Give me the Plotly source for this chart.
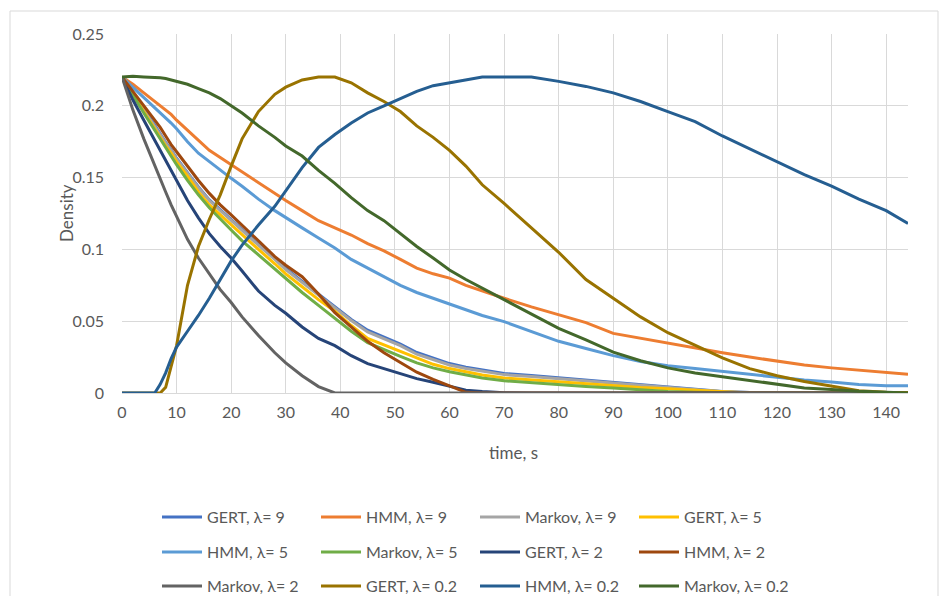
import plotly.graph_objects as go

# time grid (s)
t = [0, 2, 4, 6, 7, 8, 9, 10, 12, 14, 16, 18, 20, 22, 25, 28, 30, 33, 36, 39,
     42, 45, 48, 51, 54, 57, 60, 63, 66, 70, 75, 80, 85, 90, 95, 100, 105, 110,
     115, 120, 125, 130, 135, 140, 144]

gert_9 = [0.22, 0.2085, 0.1975, 0.1865, 0.1805, 0.1745, 0.1695, 0.1635, 0.1535, 0.1435, 0.1345, 0.1275, 0.1205, 0.1136, 0.1036, 0.0937, 0.0867, 0.0777, 0.0688, 0.0597,
          0.0512, 0.0437, 0.0387, 0.0340, 0.0282, 0.0242, 0.0205, 0.0180, 0.0160, 0.0136, 0.0122, 0.0106, 0.0089, 0.0073, 0.0056, 0.0039, 0.0023, 0.0010,
          0.0004, 0.0, 0.0, 0.0, 0.0, 0.0, 0.0]
hmm_9 = [0.22, 0.215, 0.209, 0.203, 0.200, 0.197, 0.194, 0.190, 0.183, 0.176, 0.169, 0.164, 0.159, 0.154, 0.146, 0.139, 0.134, 0.127, 0.120, 0.115,
         0.110, 0.104, 0.099, 0.093, 0.087, 0.083, 0.080, 0.075, 0.071, 0.066, 0.060, 0.0545, 0.049, 0.0415, 0.038, 0.0345, 0.031, 0.028,
         0.025, 0.022, 0.0195, 0.0175, 0.016, 0.0146, 0.013]
markov_9 = [0.22, 0.209, 0.197, 0.186, 0.180, 0.174, 0.169, 0.163, 0.153, 0.143, 0.134, 0.127, 0.120, 0.113, 0.103, 0.093, 0.086, 0.077, 0.068, 0.059,
            0.0505, 0.0425, 0.038, 0.033, 0.027, 0.023, 0.0195, 0.017, 0.015, 0.0128, 0.0115, 0.0100, 0.0084, 0.0069, 0.0050, 0.0035, 0.0020, 0.0008,
            0.0003, 0.0, 0.0, 0.0, 0.0, 0.0, 0.0]
gert_5 = [0.22, 0.208, 0.196, 0.184, 0.178, 0.172, 0.167, 0.161, 0.151, 0.140, 0.131, 0.124, 0.117, 0.110, 0.100, 0.090, 0.083, 0.074, 0.065, 0.057,
          0.047, 0.038, 0.0335, 0.029, 0.024, 0.020, 0.017, 0.0145, 0.0125, 0.0105, 0.0092, 0.0080, 0.0065, 0.0050, 0.0038, 0.0030, 0.0020, 0.0005,
          0.0, 0.0, 0.0, 0.0, 0.0, 0.0, 0.0]
hmm_5 = [0.22, 0.213, 0.206, 0.199, 0.195, 0.192, 0.188, 0.184, 0.175, 0.167, 0.161, 0.155, 0.1495, 0.144, 0.135, 0.127, 0.122, 0.115, 0.108, 0.101,
         0.093, 0.087, 0.081, 0.075, 0.070, 0.066, 0.0625, 0.058, 0.054, 0.0497, 0.043, 0.036, 0.031, 0.026, 0.022, 0.019, 0.017, 0.015,
         0.0125, 0.0105, 0.009, 0.0077, 0.006, 0.005, 0.005]
markov_5 = [0.22, 0.207, 0.195, 0.183, 0.177, 0.171, 0.165, 0.159, 0.148, 0.138, 0.129, 0.121, 0.1135, 0.106, 0.096, 0.086, 0.080, 0.070, 0.061, 0.052,
            0.043, 0.035, 0.030, 0.0255, 0.021, 0.0175, 0.0148, 0.0125, 0.0105, 0.0085, 0.0070, 0.0055, 0.0045, 0.0035, 0.0020, 0.0010, 0.0005, 0.0,
            0.0, 0.0, 0.0, 0.0, 0.0, 0.0, 0.0]
gert_2 = [0.22, 0.204, 0.190, 0.176, 0.169, 0.162, 0.155, 0.147, 0.134, 0.122, 0.111, 0.102, 0.094, 0.085, 0.071, 0.061, 0.0555, 0.046, 0.038, 0.033,
          0.026, 0.0205, 0.017, 0.0135, 0.010, 0.0075, 0.0045, 0.002, 0.001, 0.0002, 0.0, 0.0, 0.0, 0.0, 0.0, 0.0, 0.0, 0.0,
          0.0, 0.0, 0.0, 0.0, 0.0, 0.0, 0.0]
hmm_2 = [0.22, 0.210, 0.200, 0.190, 0.185, 0.179, 0.173, 0.168, 0.158, 0.148, 0.139, 0.131, 0.124, 0.117, 0.106, 0.095, 0.089, 0.081, 0.069, 0.056,
         0.046, 0.036, 0.028, 0.021, 0.0145, 0.0095, 0.005, 0.0005, 0.0, 0.0, 0.0, 0.0, 0.0, 0.0, 0.0, 0.0, 0.0, 0.0,
         0.0, 0.0, 0.0, 0.0, 0.0, 0.0, 0.0]
markov_2 = [0.22, 0.197, 0.177, 0.158, 0.149, 0.140, 0.131, 0.123, 0.107, 0.094, 0.083, 0.072, 0.063, 0.053, 0.040, 0.028, 0.021, 0.012, 0.0045, 0.0,
            0.0, 0.0, 0.0, 0.0, 0.0, 0.0, 0.0, 0.0, 0.0, 0.0, 0.0, 0.0, 0.0, 0.0, 0.0, 0.0, 0.0, 0.0,
            0.0, 0.0, 0.0, 0.0, 0.0, 0.0, 0.0]
gert_02 = [0.0, 0.0, 0.0, 0.0, 0.0, 0.004, 0.018, 0.033, 0.075, 0.102, 0.121, 0.138, 0.158, 0.177, 0.196, 0.208, 0.213, 0.218, 0.220, 0.220,
           0.216, 0.209, 0.203, 0.196, 0.186, 0.178, 0.169, 0.158, 0.145, 0.132, 0.115, 0.098, 0.079, 0.066, 0.053, 0.042, 0.033, 0.0245,
           0.017, 0.012, 0.008, 0.0045, 0.0015, 0.0005, 0.0003]
hmm_02 = [0.0, 0.0, 0.0, 0.0, 0.006, 0.014, 0.024, 0.032, 0.043, 0.054, 0.066, 0.079, 0.092, 0.103, 0.117, 0.130, 0.141, 0.157, 0.171, 0.180,
          0.188, 0.195, 0.200, 0.205, 0.210, 0.214, 0.216, 0.218, 0.220, 0.220, 0.220, 0.217, 0.2135, 0.209, 0.203, 0.196, 0.189, 0.179,
          0.170, 0.161, 0.152, 0.144, 0.135, 0.127, 0.118]
markov_02 = [0.22, 0.2205, 0.220, 0.220, 0.2195, 0.219, 0.218, 0.217, 0.215, 0.212, 0.209, 0.205, 0.200, 0.195, 0.186, 0.178, 0.172, 0.165, 0.155, 0.146,
             0.136, 0.127, 0.120, 0.111, 0.102, 0.094, 0.0857, 0.079, 0.073, 0.0648, 0.055, 0.045, 0.037, 0.0285, 0.0225, 0.0175, 0.014, 0.0115,
             0.0085, 0.006, 0.0035, 0.0025, 0.0012, 0.0005, 0.0]

series_names = ["GERT, λ= 9", "HMM, λ= 9", "Markov, λ= 9", "GERT, λ= 5",
                "HMM, λ= 5", "Markov, λ= 5", "GERT, λ= 2", "HMM, λ= 2",
                "Markov, λ= 2", "GERT, λ= 0.2", "HMM, λ= 0.2", "Markov, λ= 0.2"]
series_values = [gert_9, hmm_9, markov_9, gert_5, hmm_5, markov_5,
                 gert_2, hmm_2, markov_2, gert_02, hmm_02, markov_02]
series_colors = ["#4472C4", "#ED7D31", "#A5A5A5", "#FFC000",
                 "#5B9BD5", "#70AD47", "#264478", "#9E480E",
                 "#636363", "#997300", "#255E91", "#43682B"]

x_ticks = [0, 10, 20, 30, 40, 50, 60, 70, 80, 90, 100, 110, 120, 130, 140]
y_ticks = [0, 0.05, 0.1, 0.15, 0.2, 0.25]
y_tick_labels = ["0", "0.05", "0.1", "0.15", "0.2", "0.25"]

FONT = "Lato, 'Noto Sans', sans-serif"
TXT = "#595959"

# plot area in pixels
L, R, T_, B = 122, 908, 34, 393
W, H = 940, 596
pw, ph = R - L, B - T_


def px_x(p):
    return (p - L) / pw


def px_y(p):
    return (B - p) / ph


fig = go.Figure()
legend_ids = ["legend", "legend2", "legend3"]
for i, (name, vals, col) in enumerate(zip(series_names, series_values, series_colors)):
    fig.add_trace(go.Scatter(
        x=t, y=vals, name=name, mode="lines",
        line=dict(color=col, width=3),
        legend=legend_ids[i // 4],
        hoverinfo="x+y+name",
    ))

legend_common = dict(
    orientation="h", entrywidth=104, entrywidthmode="pixels",
    xanchor="left", yanchor="middle", itemwidth=40,
    font=dict(family=FONT, size=16, color=TXT),
    bgcolor="rgba(0,0,0,0)", traceorder="normal",
)
row_y = [517, 552, 586]
legend_x = px_x(157)

fig.update_layout(
    width=W, height=H,
    margin=dict(l=L, r=W - R, t=T_, b=H - B, autoexpand=False),
    paper_bgcolor="white", plot_bgcolor="white",
    font=dict(family=FONT, size=16, color=TXT),
    xaxis=dict(range=[0, 144], tickvals=x_ticks, showgrid=True,
               gridcolor="#D9D9D9", gridwidth=1, zeroline=False,
               showline=True, linecolor="#D9D9D9", linewidth=1,
               ticks="", ticklabelstandoff=5,
               tickfont=dict(family=FONT, size=16, color=TXT)),
    yaxis=dict(range=[0, 0.25], tickvals=y_ticks, ticktext=y_tick_labels,
               showgrid=True, gridcolor="#D9D9D9", gridwidth=1,
               zeroline=False, showline=False, ticks="",
               ticklabelstandoff=17,
               tickfont=dict(family=FONT, size=16, color=TXT)),
    legend=dict(**legend_common, x=legend_x, y=px_y(row_y[0])),
    legend2=dict(**legend_common, x=legend_x, y=px_y(row_y[1])),
    legend3=dict(**legend_common, x=legend_x, y=px_y(row_y[2])),
    showlegend=True,
    annotations=[
        dict(text="time, s", xref="paper", yref="paper",
             x=px_x(513), y=px_y(452), xanchor="center", yanchor="middle",
             showarrow=False, font=dict(family=FONT, size=17, color=TXT)),
        dict(text="Density", xref="paper", yref="paper",
             x=px_x(66), y=px_y(213), xanchor="center", yanchor="middle",
             textangle=-90, showarrow=False,
             font=dict(family=FONT, size=17, color=TXT)),
    ],
    shapes=[
        dict(type="rect", xref="paper", yref="paper",
             x0=px_x(10), x1=px_x(938), y0=px_y(620), y1=px_y(11),
             line=dict(color="#D9D9D9", width=1), fillcolor="rgba(0,0,0,0)",
             layer="below"),
    ],
)

fig.write_html("out.html")
